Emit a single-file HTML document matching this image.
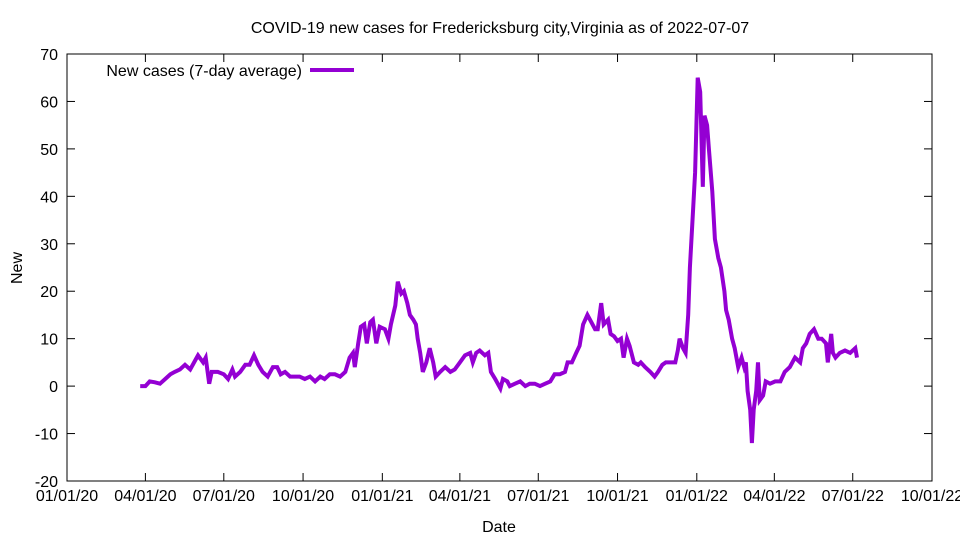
<!DOCTYPE html>
<html><head><meta charset="utf-8"><style>
body{margin:0;background:#fff}
svg{font-family:"Liberation Sans",sans-serif;font-size:16px}
</style></head><body>
<svg id="chart" width="960" height="540">
<rect width="960" height="540" fill="#fff"/>
<text x="500" y="33" text-anchor="middle">COVID-19 new cases for Fredericksburg city,Virginia as of 2022-07-07</text>
<rect x="67" y="54" width="865" height="427" fill="none" stroke="#000" stroke-width="1"/>
<g id="axes"></g>
<text x="499" y="532" text-anchor="middle">Date</text>
<text transform="translate(22,268) rotate(-90)" text-anchor="middle">New</text>
<g>
<text x="302" y="76" text-anchor="end">New cases (7-day average)</text>
<line x1="310" y1="70" x2="354" y2="70" stroke="#9400d3" stroke-width="4"/>
</g>
<path id="series" fill="none" stroke="#9400d3" stroke-width="4" stroke-linejoin="miter"/>
</svg>
<script>
const days=[85,91,96,102,108,114,120,125,131,137,143,149,152,158,161,165,168,175,182,187,192,195,201,207,212,217,222,227,233,239,244,248,253,259,265,270,276,282,288,294,299,305,311,317,323,328,332,334,338,341,345,348,352,355,359,363,369,373,376,381,384,388,391,395,398,402,405,407,410,413,417,421,425,428,433,439,445,450,456,462,468,471,475,479,485,489,492,497,503,506,511,514,520,526,532,537,543,549,555,561,566,572,578,581,586,591,595,599,604,607,613,616,620,623,628,631,635,639,643,646,650,653,658,663,666,671,677,682,686,691,695,700,706,709,711,715,718,721,723,727,729,732,735,738,740,743,745,749,752,756,759,763,765,768,772,775,779,781,783,786,788,790,793,795,797,800,802,804,808,811,816,822,828,833,839,845,851,854,858,862,867,872,876,881,883,887,889,892,897,903,909,915,917];
const values=[0,0,1,0.8,0.5,1.5,2.5,3,3.5,4.5,3.5,5.5,6.5,5,6,0.5,3,3,2.5,1.5,3.5,2,3,4.5,4.5,6.5,4.5,3,2,4,4,2.5,3,2,2,2,1.5,2,1,2,1.5,2.5,2.5,2,3,6,7,4,9,12.5,13,9,13.5,14,9,12.5,12,10,13,17,22,19.5,20,17.5,15,14,13,10,7,3,5,8,5,2,3,4,3,3.5,5,6.5,7,5,7,7.5,6.5,7,3,1.5,-0.5,1.5,1,0,0.5,1,0,0.5,0.5,0,0.5,1,2.5,2.5,3,5,5,7,8.5,13,15,14,12,12,17.5,13,14,11,10.5,9.5,10,6,10,8.5,5,4.5,5,4,3,2,3,4.5,5,5,5,7.5,10,8,7,15,25,38,45,65,62,42,57,55,50,41,31,27,25,20,16,14,10,8,4,5,6,4,5,-1,-5,-12,-5,-1,5,-3,-2,1,0.5,1,1,3,4,6,5,8,9,11,12,10,10,9,5,11,7,6,7,7.5,7,8,6];
const yTicks=[-20,-10,0,10,20,30,40,50,60,70];
const xTickDays=[0,91,182,274,366,456,547,639,731,821,912,1004];
const xTickLabels=["01/01/20","04/01/20","07/01/20","10/01/20","01/01/21","04/01/21","07/01/21","10/01/21","01/01/22","04/01/22","07/01/22","10/01/22"];
const L=67,R=932,T=54,B=481,D0=0,D1=1004,Y0=-20,Y1=70;
const sx=d=>L+(d-D0)/(D1-D0)*(R-L);
const sy=v=>B-(v-Y0)/(Y1-Y0)*(B-T);
const NS="http://www.w3.org/2000/svg";
const ax=document.getElementById('axes');
function mk(tag,attrs){const e=document.createElementNS(NS,tag);for(const k in attrs)e.setAttribute(k,attrs[k]);return e;}
yTicks.forEach(v=>{
  const y=sy(v);
  const t1=mk('line',{x1:L,x2:L+8,y1:y,y2:y,stroke:'#000'});
  
  
  ax.appendChild(t1);
  const t2=mk('line',{x1:R-8,x2:R,y1:y,y2:y,stroke:'#000'});
  
  
  ax.appendChild(t2);
  const tx=mk('text',{x:L-9,y:y+6,'text-anchor':'end'});
  
  
  tx.textContent=v;ax.appendChild(tx);
});
xTickDays.forEach((d,i)=>{
  const x=sx(d);
  const t1=mk('line',{x1:x,x2:x,y1:B,y2:B-8,stroke:'#000'});
  
  
  ax.appendChild(t1);
  const t2=mk('line',{x1:x,x2:x,y1:T,y2:T+8,stroke:'#000'});
  
  
  ax.appendChild(t2);
  const tx=mk('text',{x:x,y:B+20,'text-anchor':'middle'});
  
  
  tx.textContent=xTickLabels[i];ax.appendChild(tx);
});
document.getElementById('series').setAttribute('d',days.map((d,i)=>(i?'L':'M')+sx(d).toFixed(1)+','+sy(values[i]).toFixed(1)).join(''));
</script>
</body></html>
